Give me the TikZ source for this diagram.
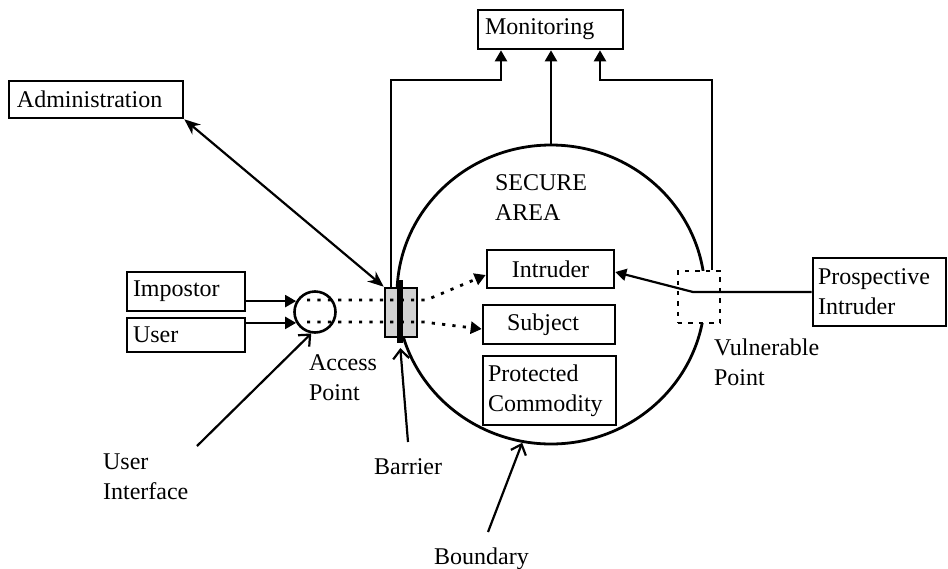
\documentclass[tikz,border=0pt]{standalone}
\usepackage{fontspec}
\setmainfont{Liberation Serif}
\usetikzlibrary{arrows.meta,calc,shapes.geometric}

\begin{document}
\begin{tikzpicture}[x=0.5pt,y=-0.5pt,
  font=\fontsize{12}{15}\selectfont,
  line width=1.1pt,
  box/.style={draw,line width=1.3pt,rectangle,inner ysep=0pt,align=left},
  lbl/.style={inner sep=0pt,align=left},
  tri/.style={-{Triangle[length=5.5pt,width=6pt]}},
  barb/.style={-{Straight Barb[length=4.5pt,width=8pt]}},
  dots/.style={line width=1.4pt,dash pattern=on 1.6pt off 3.6pt},
  stl/.style={{Stealth[length=8pt,width=6.5pt]}-{Stealth[length=8pt,width=6.5pt]}},
]
\useasboundingbox (0,0) rectangle (948,568);

% secure area
\node[draw,ellipse,line width=1.4pt,minimum width=154pt,minimum height=149.5pt,inner sep=0pt] (area) at (551,294.5) {};
\node[lbl,anchor=west] (secure) at (494,197.5) {SECURE\\AREA};

% boxes
\node[box,text width=79pt,inner xsep=4pt,minimum height=18.5pt] (admin) at (96,99.5) {Administration};
\node[box,text width=65.5pt,inner xsep=3.5pt,minimum height=19.5pt] (mon) at (550.5,29.5) {Monitoring};
\node[box,text width=53pt,inner xsep=3pt,minimum height=19.5pt] (imp) at (186,291.5) {Impostor};
\node[box,text width=53pt,inner xsep=3pt,minimum height=17pt] (user) at (186,335) {User};
\node[box,align=center,text width=57.5pt,inner xsep=3pt,minimum height=19pt] (intr) at (550.5,269) {Intruder};
\node[box,text width=42pt,inner xsep=12pt,minimum height=19.5pt] (subj) at (549,324.5) {Subject};
\node[box,text width=61.5pt,inner xsep=2.5pt,minimum height=34.5pt] (prot) at (549.5,390.5) {Protected\\Commodity};
\node[box,text width=61.5pt,inner xsep=2.5pt,minimum height=34pt] (pros) at (879.5,292) {Prospective\\Intruder};

% access point, barrier, vulnerable point
\node[draw,circle,line width=1.3pt,minimum size=20.5pt,inner sep=0pt] (acc) at (315,312) {};
\node[draw,line width=1.3pt,fill=gray!35,minimum width=16pt,minimum height=24.5pt,inner sep=0pt] (barrier) at (401,312.5) {};
\node[fill=black,minimum width=2.8pt,minimum height=31.5pt,inner sep=0pt] (wall) at (400,311.5) {};
\node[draw,fill=white,dash pattern=on 2.2pt off 3pt,line width=1.1pt,minimum width=21pt,minimum height=26pt,inner sep=0pt] (vuln) at (699,297) {};

% labels
\node[lbl,anchor=west] (acclbl) at (308,377.5) {Access\\Point};
\node[lbl,anchor=west] (ui) at (102,476.5) {User\\Interface};
\node[lbl,anchor=base west] (barlbl) at (373,474) {Barrier};
\node[lbl,anchor=base west] (bndlbl) at (433,564) {Boundary};
\node[lbl,anchor=west] (vlbl) at (713,362.5) {Vulnerable\\Point};

% monitoring feeds
\coordinate (mL) at (501,80);
\coordinate (mR) at (600,80);
\draw[tri] ([xshift=-5pt]barrier.north) |- (mL) -- (mL |- mon.south);
\draw[tri] (area.north) -- (area.north |- mon.south);
\draw[tri] ([xshift=6.5pt]vuln.north) |- (mR) -- (mR |- mon.south);

% administration link
\draw[stl] (admin.south east) -- (barrier.north west);

% entry to the access point
\draw[tri] (imp.east |- acc.150) -- (acc.150);
\draw[tri] (user.east |- acc.210) -- (acc.210);

% paths through the barrier
\coordinate (d1) at ($(acc.center)+(-8,-12)$);
\coordinate (d2) at ($(acc.center)+(-8,10)$);
\draw[dots,tri] (d1) -- ($(barrier.east |- d1)+(8,0)$) -- ($(intr.west)+(0,6)$);
\draw[dots,tri] (d2) -- ($(barrier.east |- d2)+(5,0)$) -- ($(subj.west)+(0,4.5)$);

% prospective intruder through the vulnerable point
\coordinate (bend) at (693,292);
\draw[tri] (pros.west) -- (bend) -- ($(intr.east)+(0,3)$);

% pointer lines of the labels
\coordinate (uiTail) at (197,446);
\coordinate (barTail) at (408,442);
\coordinate (bndTail) at (488,532);
\draw[barb] (uiTail) -- (acc.260);
\draw[barb,shorten >=2pt] (barTail) -- (wall.south);
\draw[barb] (bndTail) -- (area.259);
\end{tikzpicture}
\end{document}
